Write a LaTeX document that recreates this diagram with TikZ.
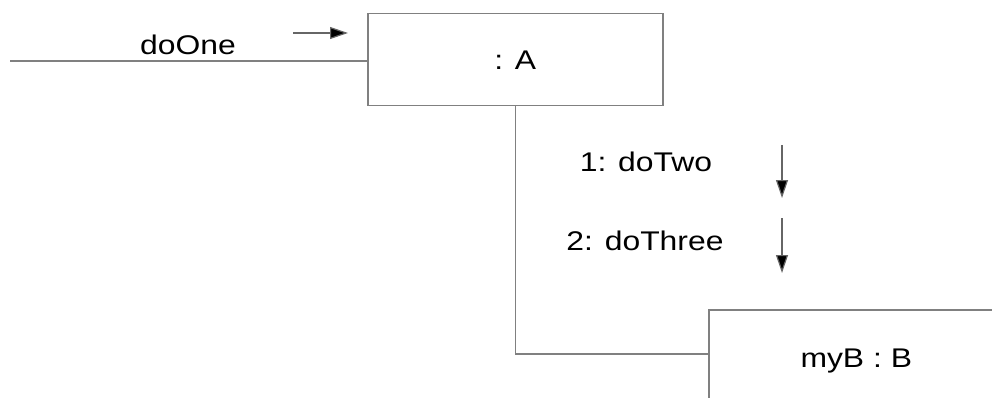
\documentclass[tikz,border=0pt]{standalone}
\usepackage{fontspec}
\setmainfont[FakeStretch=1.18]{Liberation Sans}
\usetikzlibrary{arrows.meta}
\begin{document}
\begin{tikzpicture}[x=1pt,y=-1pt,
  objbox/.style={draw=black!50, line width=1.5pt, minimum width=295pt, minimum height=92pt, inner sep=0pt, font=\fontsize{27}{32}\selectfont},
  conn/.style={draw=black!50, line width=1.5pt},
  msg/.style={draw=black!60, line width=1.2pt, -{Triangle[length=18pt,width=12pt,fill=black]}},
  lbl/.style={font=\fontsize{27}{32}\selectfont, inner sep=0pt}]
\useasboundingbox (0,0) rectangle (992,398);
\clip (0,0) rectangle (992,398);
\node[objbox, anchor=north west] (A) at (367,13) {: A};
\node[objbox, anchor=north west, minimum height=102pt] (B) at (708,309) {myB : B};
\coordinate (in) at (10,61);
\draw[conn] (in) -- (A.west |- in);
\draw[conn] (A.south) |- ([yshift=7pt]B.west);
\node[lbl] (l1) at (188,45) {doOne};
\node[lbl] (l2) at (646,162) {1: doTwo};
\node[lbl] (l3) at (645,241) {2: doThree};
\coordinate (a1s) at (293,33); \coordinate (a1e) at (348,33);
\coordinate (a2s) at (782,145); \coordinate (a2e) at (782,198);
\coordinate (a3s) at (782,218); \coordinate (a3e) at (782,273);
\draw[msg] (a1s) -- (a1e);
\draw[msg] (a2s) -- (a2e);
\draw[msg] (a3s) -- (a3e);
\end{tikzpicture}
\end{document}
